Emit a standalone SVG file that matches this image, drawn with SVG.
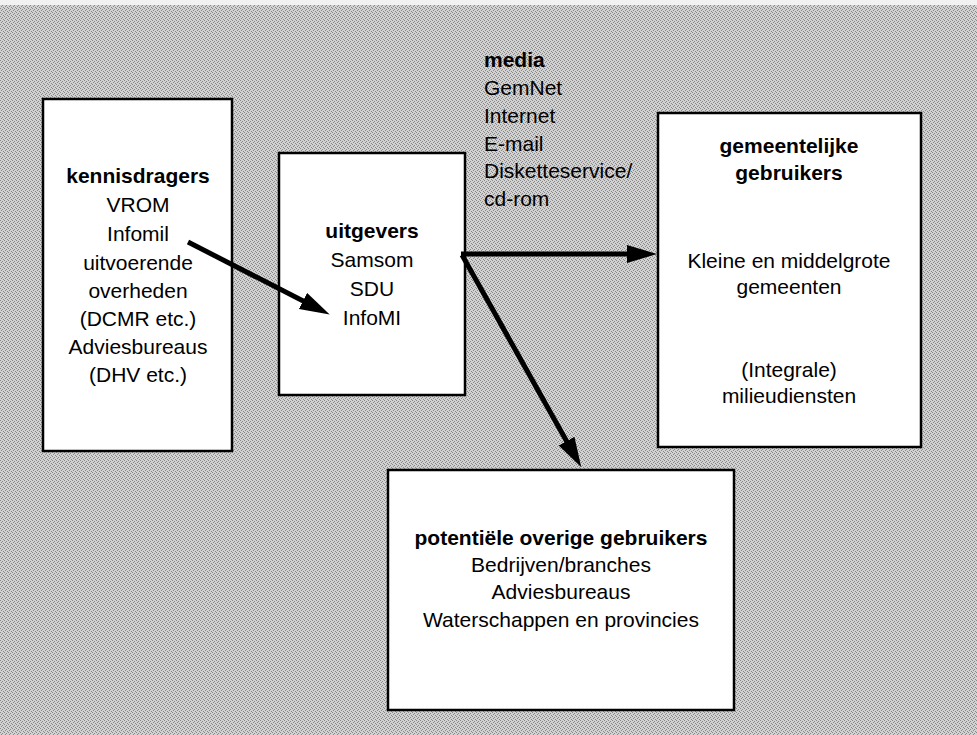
<svg xmlns="http://www.w3.org/2000/svg" width="977" height="735" viewBox="0 0 977 735">
<style>
.box{fill:#fff;stroke:#000;stroke-width:2.5}
text{font-family:"Liberation Sans",Arial,sans-serif;font-size:21px;fill:#000}
.c{text-anchor:middle}
.b{font-weight:bold}
.arr{stroke:#000;stroke-width:5;fill:none}
</style>
<defs>
<pattern id="tex" width="4" height="4" patternUnits="userSpaceOnUse">
<rect width="4" height="4" fill="#d2d2d2"/>
<rect x="0" y="0" width="1" height="1" fill="#888"/>
<rect x="2" y="1" width="1" height="1" fill="#888"/>
<rect x="1" y="2" width="1" height="1" fill="#888"/>
<rect x="3" y="3" width="1" height="1" fill="#888"/>
</pattern>
<marker id="ah" markerUnits="userSpaceOnUse" markerWidth="32" markerHeight="20" refX="9" refY="9" orient="auto">
<path d="M0,0 L30,9 L0,18 Z" fill="#000"/>
</marker>
</defs>
<rect x="0" y="0" width="977" height="735" fill="url(#tex)"/>
<rect x="0" y="0" width="977" height="5" fill="#f2f2f2"/>

<g id="kennisdragers">
<rect class="box" x="43" y="99" width="189" height="352"/>
<text class="c b" x="138" y="183">kennisdragers</text>
<text class="c" x="138" y="212">VROM</text>
<text class="c" x="138" y="241">Infomil</text>
<text class="c" x="138" y="270">uitvoerende</text>
<text class="c" x="138" y="298">overheden</text>
<text class="c" x="138" y="326">(DCMR etc.)</text>
<text class="c" x="138" y="354">Adviesbureaus</text>
<text class="c" x="138" y="382">(DHV etc.)</text>
</g>

<g id="uitgevers">
<rect class="box" x="279" y="153" width="186" height="242"/>
<text class="c b" x="372" y="238">uitgevers</text>
<text class="c" x="372" y="267">Samsom</text>
<text class="c" x="372" y="296">SDU</text>
<text class="c" x="372" y="325">InfoMI</text>
</g>

<g id="media">
<text class="b" x="484" y="67">media</text>
<text x="484" y="95">GemNet</text>
<text x="484" y="123">Internet</text>
<text x="484" y="151">E-mail</text>
<text x="484" y="178">Disketteservice/</text>
<text x="484" y="206">cd-rom</text>
</g>

<g id="gemeentelijke">
<rect class="box" x="658" y="113" width="263" height="334"/>
<text class="c b" x="789" y="153">gemeentelijke</text>
<text class="c b" x="789" y="180">gebruikers</text>
<text class="c" x="789" y="268">Kleine en middelgrote</text>
<text class="c" x="789" y="294">gemeenten</text>
<text class="c" x="789" y="377">(Integrale)</text>
<text class="c" x="789" y="403">milieudiensten</text>
</g>

<g id="overige">
<rect class="box" x="388" y="470" width="346" height="240"/>
<text class="c b" x="561" y="545">potentiële overige gebruikers</text>
<text class="c" x="561" y="572">Bedrijven/branches</text>
<text class="c" x="561" y="599">Adviesbureaus</text>
<text class="c" x="561" y="627">Waterschappen en provincies</text>
</g>

<g id="connectors">
<line class="arr" x1="188" y1="242" x2="311" y2="305" marker-end="url(#ah)"/>
<line class="arr" x1="461" y1="254" x2="636" y2="254" marker-end="url(#ah)"/>
<line class="arr" x1="462" y1="255" x2="571" y2="449" marker-end="url(#ah)"/>
</g>
</svg>
